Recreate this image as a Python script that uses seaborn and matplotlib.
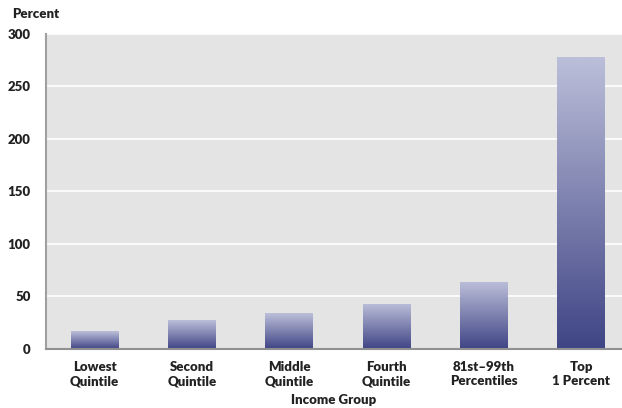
import numpy as np
import pandas as pd
import matplotlib.pyplot as plt
import seaborn as sns
from matplotlib.colors import LinearSegmentedColormap

groups = ["Lowest\nQuintile", "Second\nQuintile", "Middle\nQuintile",
          "Fourth\nQuintile", "81st\u201399th\nPercentiles", "Top\n1 Percent"]
percent = [17, 27, 34, 43, 64, 278]

df = pd.DataFrame({"group": groups, "percent": percent})

sns.set_style("white")
plt.rcParams['font.family'] = ['Lato', 'DejaVu Sans']

fig = plt.figure(figsize=(6.22, 4.08), dpi=100)
ax = fig.add_axes([0.074, 0.145, 0.926, 0.772])
ax.set_facecolor("#e4e4e4")

sns.barplot(data=df, x="group", y="percent", ax=ax, width=0.49, color="#5a5f98")

# vertical gradient fill for each bar
cmap = LinearSegmentedColormap.from_list("grad", ["#3f4485", "#bcbfd9"])
grad = np.linspace(0, 1, 256).reshape(-1, 1)
for p in ax.patches:
    x0, y0 = p.get_x(), p.get_y()
    w, h = p.get_width(), p.get_height()
    p.set_facecolor("none")
    p.set_edgecolor("none")
    im = ax.imshow(grad, cmap=cmap, origin="lower", aspect="auto",
                   extent=[x0, x0 + w, y0, y0 + h], zorder=2)
    im.set_clip_path(p)

ax.set_xlim(-0.5, 5.42)
ax.set_ylim(0, 300)
ax.set_yticks([0, 50, 100, 150, 200, 250, 300])
ax.yaxis.grid(True, color="white", linewidth=1.2)
ax.set_axisbelow(True)

for s in ["top", "right"]:
    ax.spines[s].set_visible(False)
ax.spines["left"].set_color("#a0a0a0")
ax.spines["bottom"].set_color("#909090")
ax.spines["left"].set_linewidth(1.5)
ax.spines["bottom"].set_linewidth(1.5)

ax.tick_params(axis="y", direction="in", length=6, width=1.5, color="#a0a0a0",
               labelsize=9.5, pad=11)
ax.tick_params(axis="x", length=0, labelsize=9.5, pad=9)
for lbl in ax.get_yticklabels() + ax.get_xticklabels():
    lbl.set_fontweight("heavy")
    lbl.set_color("#222222")

ax.set_xlabel("Income Group", fontsize=9.5, fontweight="heavy", color="#222222", labelpad=5)
ax.set_ylabel("")
fig.text(0.019, 0.966, "Percent", fontsize=9.5, fontweight="heavy", color="#222222",
         ha="left", va="center")

fig.savefig("out.png", dpi=100)
